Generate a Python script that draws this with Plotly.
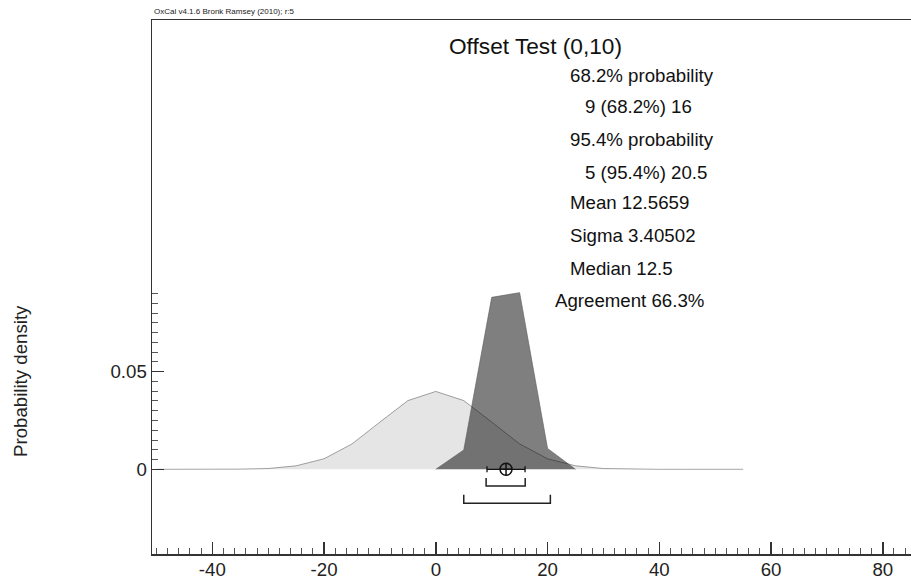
import plotly.graph_objects as go

# ---- data ----
prior_x = [-50, -45, -40, -35, -30, -25, -20, -15, -10, -5, 0, 5, 10, 15, 20, 25, 30, 35, 40, 45, 50, 55]
prior_y = [0.0, 0.0, 0.0, 0.0001, 0.0004, 0.0018, 0.0054, 0.0130, 0.0242, 0.0352, 0.0399,
           0.0352, 0.0242, 0.0130, 0.0054, 0.0018, 0.0004, 0.0001, 0.0, 0.0, 0.0, 0.0]
post_x = [0, 5, 10, 15, 20, 25]
post_y = [0.0, 0.0099, 0.0881, 0.0905, 0.0107, 0.0]

range68 = [9, 16]
range95 = [5, 20.5]
mean_val = 12.5659
sigma_val = 3.40502
median_val = 12.5
agreement = 66.3

x_major_ticks = [-40, -20, 0, 20, 40, 60, 80]
x_tick_labels = ["-40", "-20", "0", "20", "40", "60", "80"]
y_major_ticks = [0, 0.05]
y_tick_labels = ["0", "0.05"]

title_text = "Offset Test (0,10)"
header_text = "OxCal v4.1.6 Bronk Ramsey (2010); r:5"
y_title = "Probability density"

# ---- geometry ----
W, H = 911, 580
ML, MT, MB, MR = 152, 20, 26, 0
PW, PH = W - ML - MR, H - MT - MB
XR = [-50.80, 85.05]
YR = [-0.04339, 0.23017]

FONT = "Arial, Liberation Sans, sans-serif"
FS = 18.67


def px(x):
    return (x - ML) / PW


def py(y):
    return (H - MB - y) / PH


fig = go.Figure()

fig.add_trace(go.Scatter(
    x=prior_x, y=prior_y, mode="lines", fill="tozeroy",
    fillcolor="rgba(0,0,0,0.10)", line=dict(color="rgba(0,0,0,0.35)", width=1),
    hoverinfo="skip", showlegend=False))

fig.add_trace(go.Scatter(
    x=post_x, y=post_y, mode="lines", fill="tozeroy",
    fillcolor="rgba(0,0,0,0.50)", line=dict(color="rgba(90,90,90,0.6)", width=1),
    hoverinfo="skip", showlegend=False))

# range brackets
def bracket(r, ytop, ybot):
    fig.add_trace(go.Scatter(
        x=[r[0], r[0], r[1], r[1]], y=[ytop, ybot, ybot, ytop], mode="lines",
        line=dict(color="#222", width=1.5), hoverinfo="skip", showlegend=False))

bracket(range68, -0.0045, -0.0086)
bracket(range95, -0.0131, -0.0174)

# mean +/- sigma marker
fig.add_trace(go.Scatter(
    x=[mean_val], y=[0], mode="markers",
    marker=dict(symbol="circle-cross-open", size=12, color="#111", line=dict(width=1.5, color="#111")),
    error_x=dict(type="data", array=[sigma_val], symmetric=True, color="#111", thickness=1.3, width=3),
    hoverinfo="skip", showlegend=False))

ann = []
ann.append(dict(text=header_text, x=px(152), y=py(11), xanchor="left", yanchor="middle",
                font=dict(size=8, family=FONT, color="#222")))
ann.append(dict(text=title_text, x=px(535), y=py(46), xanchor="center", yanchor="middle",
                font=dict(size=22.67, family=FONT, color="#111")))
stats = [
    ("68.2% probability", 568, 75),
    (f"{range68[0]:g} (68.2%) {range68[1]:g}", 583, 107),
    ("95.4% probability", 568, 139),
    (f"{range95[0]:g} (95.4%) {range95[1]:g}", 583, 172),
    (f"Mean {mean_val:g}", 568, 203),
    (f"Sigma {sigma_val:g}", 568, 235),
    (f"Median {median_val:g}", 568, 268),
    (f"Agreement {agreement:g}%", 553, 300),
]
for t, x0, y0 in stats:
    ann.append(dict(text=t, x=px(x0), y=py(y0), xanchor="left", yanchor="middle",
                    font=dict(size=FS, family=FONT, color="#111")))
ann.append(dict(text=y_title, x=px(20), y=py(381), textangle=-90, xanchor="center", yanchor="middle",
                font=dict(size=FS, family=FONT, color="#222")))
for a in ann:
    a.update(xref="paper", yref="paper", showarrow=False)

y_minor = [round(0.005 * i, 3) for i in range(1, 19) if i != 10]

fig.update_layout(
    width=W, height=H, margin=dict(l=ML, r=MR, t=MT, b=MB, autoexpand=False),
    paper_bgcolor="white", plot_bgcolor="white",
    font=dict(family=FONT, size=FS, color="#222"),
    annotations=ann,
    xaxis=dict(range=XR, showgrid=False, zeroline=False, showline=True, mirror=True,
               linecolor="#333", linewidth=1.5,
               tickmode="array", tickvals=x_major_ticks, ticktext=x_tick_labels,
               ticks="inside", ticklen=12, ticklabelstandoff=-2,
               tickwidth=1.5, tickcolor="#333", tickfont=dict(size=FS, family=FONT, color="#222"),
               minor=dict(tickmode="linear", tick0=0, dtick=2, ticks="inside", ticklen=6,
                          tickwidth=1, tickcolor="#555", showgrid=False)),
    yaxis=dict(range=YR, showgrid=False, zeroline=False, showline=True, mirror=False,
               linecolor="#333", linewidth=1.5,
               tickmode="array", tickvals=y_major_ticks, ticktext=y_tick_labels,
               ticks="inside", ticklen=12, tickwidth=1.5, tickcolor="#333",
               tickfont=dict(size=FS, family=FONT, color="#222"),
               minor=dict(tickmode="array", tickvals=y_minor, ticks="inside", ticklen=6,
                          tickwidth=1, tickcolor="#555", showgrid=False)),
)

fig.write_html("out.html",
               config={"displayModeBar": False, "staticPlot": True},
               post_script="document.body.style.margin='0';document.body.style.padding='0';")
